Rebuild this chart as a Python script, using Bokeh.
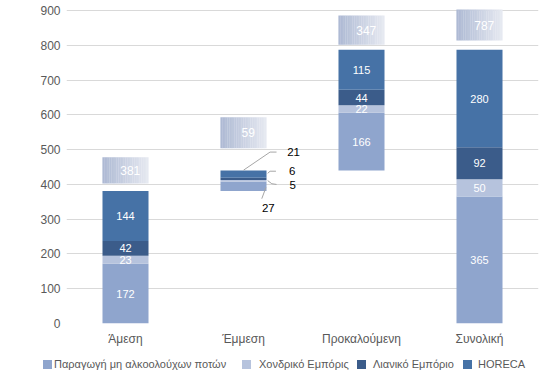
import numpy as np
from bokeh.plotting import figure
from bokeh.layouts import column
from bokeh.models import (ColumnDataSource, FactorRange, Range1d, FixedTicker,
                          Div)
from bokeh.transform import dodge
from bokeh.core.properties import value
from bokeh.embed import file_html
from bokeh.resources import INLINE

# ---------------- data ----------------
categories = ["Άμεση", "Έμμεση", "Προκαλούμενη", "Συνολική"]
series_names = ["Παραγωγή μη αλκοολούχων ποτών", "Χονδρικό Εμπόρις",
                "Λιανικό Εμπόριο", "HORECA"]
paragogi = [172, 27, 166, 365]
xondriko = [23, 5, 22, 50]
lianiko = [42, 6, 44, 92]
horeca = [144, 21, 115, 280]
y_ticks = [0, 100, 200, 300, 400, 500, 600, 700, 800, 900]

# ---------------- styling ----------------
colors = ["#8fa5cd", "#b6c3dd", "#3b5c8a", "#4672a6"]
FONT = "Liberation Sans"
GREY = "#595959"
box_gap = [22, 64, 15, 27]
box_height = [75, 89, 84, 89]
legend_square_left = [43, 242, 357, 463]   # legend layout (px)
legend_text_left = [54, 259, 373, 478]

series = [paragogi, xondriko, lianiko, horeca]
totals = [sum(v) for v in zip(*series)]
base = [0, totals[0], totals[0] + totals[1], 0]

p = figure(x_range=FactorRange(*categories), y_range=Range1d(0, 906),
           frame_width=472, frame_height=315, output_backend="svg",
           toolbar_location=None, min_border_left=66, min_border_right=7,
           min_border_top=8, min_border_bottom=27)
p.outline_line_color = None
p.background_fill_color = "white"

p.yaxis.ticker = FixedTicker(ticks=y_ticks)
p.yaxis.axis_line_color = None
p.yaxis.major_tick_line_color = None
p.yaxis.major_tick_out = 0
p.yaxis.minor_tick_line_color = None
p.yaxis.minor_tick_out = 0
p.yaxis.major_label_standoff = 6
p.yaxis.major_label_text_font = FONT
p.yaxis.major_label_text_font_size = "12px"
p.yaxis.major_label_text_color = GREY
p.xaxis.axis_line_color = None
p.xaxis.major_tick_line_color = None
p.xaxis.major_tick_out = 0
p.xaxis.major_label_standoff = 8
p.xaxis.major_label_text_font = FONT
p.xaxis.major_label_text_font_size = "12px"
p.xaxis.major_label_text_color = GREY
p.xgrid.grid_line_color = None
p.ygrid.grid_line_color = "#d9d9d9"
p.ygrid.grid_line_width = 1.2

bottoms = list(base)
label_rows = {"x": [], "y": [], "t": []}
for name, vals, col in zip(series_names, series, colors):
    tops = [b + v for b, v in zip(bottoms, vals)]
    src = ColumnDataSource(dict(x=categories, bottom=bottoms, top=tops))
    p.vbar(x="x", bottom="bottom", top="top", width=0.39, source=src,
           fill_color=col, line_color=None, name=name)
    for c, b, t, v in zip(categories, bottoms, tops, vals):
        if c != "Έμμεση":
            label_rows["x"].append(c)
            label_rows["y"].append((b + t) / 2)
            label_rows["t"].append(str(v))
    bottoms = tops

p.text(x="x", y="y", text="t", source=ColumnDataSource(label_rows),
       text_color="white", text_font=value(FONT), text_font_size="11px",
       text_align="center", text_baseline="middle")

ind = categories.index("Έμμεση")
ind_vals = [v[ind] for v in series]
seg_x0 = [0.0, 0.225, 0.205, 0.225, 0.205, 0.24, 0.19]
seg_x1 = [0.225, 0.28, 0.225, 0.275, 0.24, 0.28, 0.155]
seg_y0 = [441, 493, 432, 438, 411, 402, 391]
seg_y1 = [493, 493, 438, 438, 402, 400, 359]
for i in range(len(seg_x0)):
    s = ColumnDataSource(dict(c=["Έμμεση"], y0=[seg_y0[i]], y1=[seg_y1[i]]))
    p.segment(x0=dodge("c", seg_x0[i], range=p.x_range), y0="y0",
              x1=dodge("c", seg_x1[i], range=p.x_range), y1="y1", source=s,
              line_color="#a6a6a6", line_width=1)

out_off = [0.21, 0.39, 0.385, 0.37]
out_y = [331, 397, 438, 493]
out_align = ["center", "left", "left", "left"]
for v, dx, yy, al in zip(ind_vals, out_off, out_y, out_align):
    s = ColumnDataSource(dict(c=["Έμμεση"], y=[yy], t=[str(v)]))
    p.text(x=dodge("c", dx, range=p.x_range), y="y", text="t", source=s,
           text_color="black", text_font=value(FONT), text_font_size="11.5px",
           text_align=al, text_baseline="middle")

# total label boxes: soft gradient built from narrow strips
nstrip = 26
c0 = np.array([174, 186, 212])
c1 = np.array([230, 233, 241])
stack_top = [b + t for b, t in zip(base, totals)]
for c, st, g, h, tot in zip(categories, stack_top, box_gap, box_height, totals):
    w = 0.39 / nstrip
    for k in range(nstrip):
        f = k / (nstrip - 1)
        col = tuple(int(c0[j] + (c1[j] - c0[j]) * f) for j in range(3))
        s = ColumnDataSource(dict(c=[c], y=[st + g + h / 2]))
        p.rect(x=dodge("c", -0.195 + w * (k + 0.5), range=p.x_range), y="y",
               width=w * 1.1, height=h, source=s,
               fill_color="#%02x%02x%02x" % col, line_color=None)
    s2 = ColumnDataSource(dict(c=[c], y=[st + g + h / 2], t=[str(tot)]))
    p.text(x=dodge("c", 0.04, range=p.x_range), y="y", text="t", source=s2,
           text_color="white", text_font=value(FONT), text_font_size="12px",
           text_align="center", text_baseline="middle")

# ---------------- legend (HTML strip under the plot) ----------------
parts = []
for name, col, sq, tx in zip(series_names, colors, legend_square_left,
                             legend_text_left):
    parts.append(
        f'<span style="position:absolute;left:{sq}px;top:10px;width:9px;'
        f'height:9px;background:{col};"></span>'
        f'<span style="position:absolute;left:{tx}px;top:8px;'
        f'white-space:nowrap;line-height:13px;">{name}</span>')
legend_html = (f'<div style="position:relative;width:545px;height:24px;'
               f'font-family:\'{FONT}\';font-size:11px;color:{GREY};">'
               + "".join(parts) + "</div>")
legend_div = Div(text=legend_html, width=545, height=24, margin=0)

layout = column(p, legend_div, spacing=0)
open("out.html", "w").write(file_html(layout, INLINE))
